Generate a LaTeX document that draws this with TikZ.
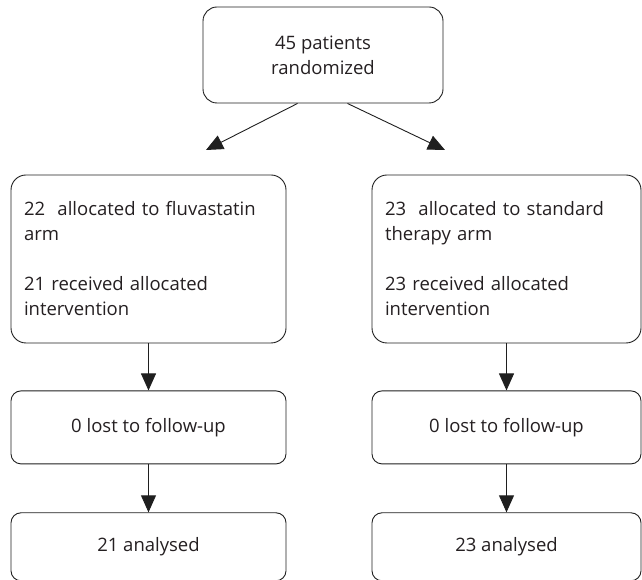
\documentclass[tikz,border=0pt]{standalone}
\usepackage{fontspec}
\setmainfont{Open Sans}
\usetikzlibrary{positioning,arrows.meta}
\definecolor{flow-line}{rgb}{0.12, 0.12, 0.12}
\definecolor{flow-text}{rgb}{0.14, 0.12, 0.13}

\begin{document}
\begin{tikzpicture}[x=1pt, y=1pt, node distance=47pt,
		font=\fontsize{18.5}{25}\selectfont,
		flowbox/.style={draw=flow-line, line width=0.9pt, text=flow-text, inner sep=0pt, rounded corners=10pt, align=center},
		armbox/.style={flowbox, rounded corners=15pt, minimum height=168pt, inner xsep=13pt, align=left},
		flowarrow/.style={draw=flow-line, line width=0.9pt, -{Triangle[length=17pt, width=15pt]}}]
		\useasboundingbox (0,0) rectangle (642,580);
		
		% Draw the randomisation box
		\node (random) [flowbox, rounded corners=14pt, minimum width=240pt, minimum height=96pt] at (323,525) {45 patients\\randomized};
		
		% Draw the two arms
		\node (fluva) [armbox, text width=249pt] at (148.5,321) {\mbox{22~ allocated to fluvastatin}\\arm\\[25pt]21 received allocated\\intervention};
		\node (standard) [armbox, text width=243pt] at (506.5,321) {\mbox{23~ allocated to standard}\\therapy arm\\[25pt]23 received allocated\\intervention};
		
		% Draw the follow-up boxes
		\node (fluvalost) [flowbox, minimum width=275pt, minimum height=73pt, below=of fluva] {0 lost to follow-up};
		\node (standlost) [flowbox, minimum width=269pt, minimum height=73pt, below=of standard] {0 lost to follow-up};
		
		% Draw the analysis boxes
		\node (fluvadone) [flowbox, minimum width=275pt, minimum height=68pt, below=48pt of fluvalost] {21 analysed};
		\node (standdone) [flowbox, minimum width=269pt, minimum height=68pt, below=48pt of standlost] {23 analysed};
		
		% Free ends of the split arrows
		\coordinate (fluvatip) at (206,430);
		\coordinate (standtip) at (445,430);
		
		% Connect the boxes with arrows
		\draw[flowarrow] ([xshift=95pt]random.south west) -- (fluvatip);
		\draw[flowarrow] ([xshift=-96pt]random.south east) -- (standtip);
		\draw[flowarrow] (fluva) -- (fluvalost);
		\draw[flowarrow] (fluvalost) -- (fluvadone);
		\draw[flowarrow] (standard) -- (standlost);
		\draw[flowarrow] (standlost) -- (standdone);
\end{tikzpicture}
\end{document}
